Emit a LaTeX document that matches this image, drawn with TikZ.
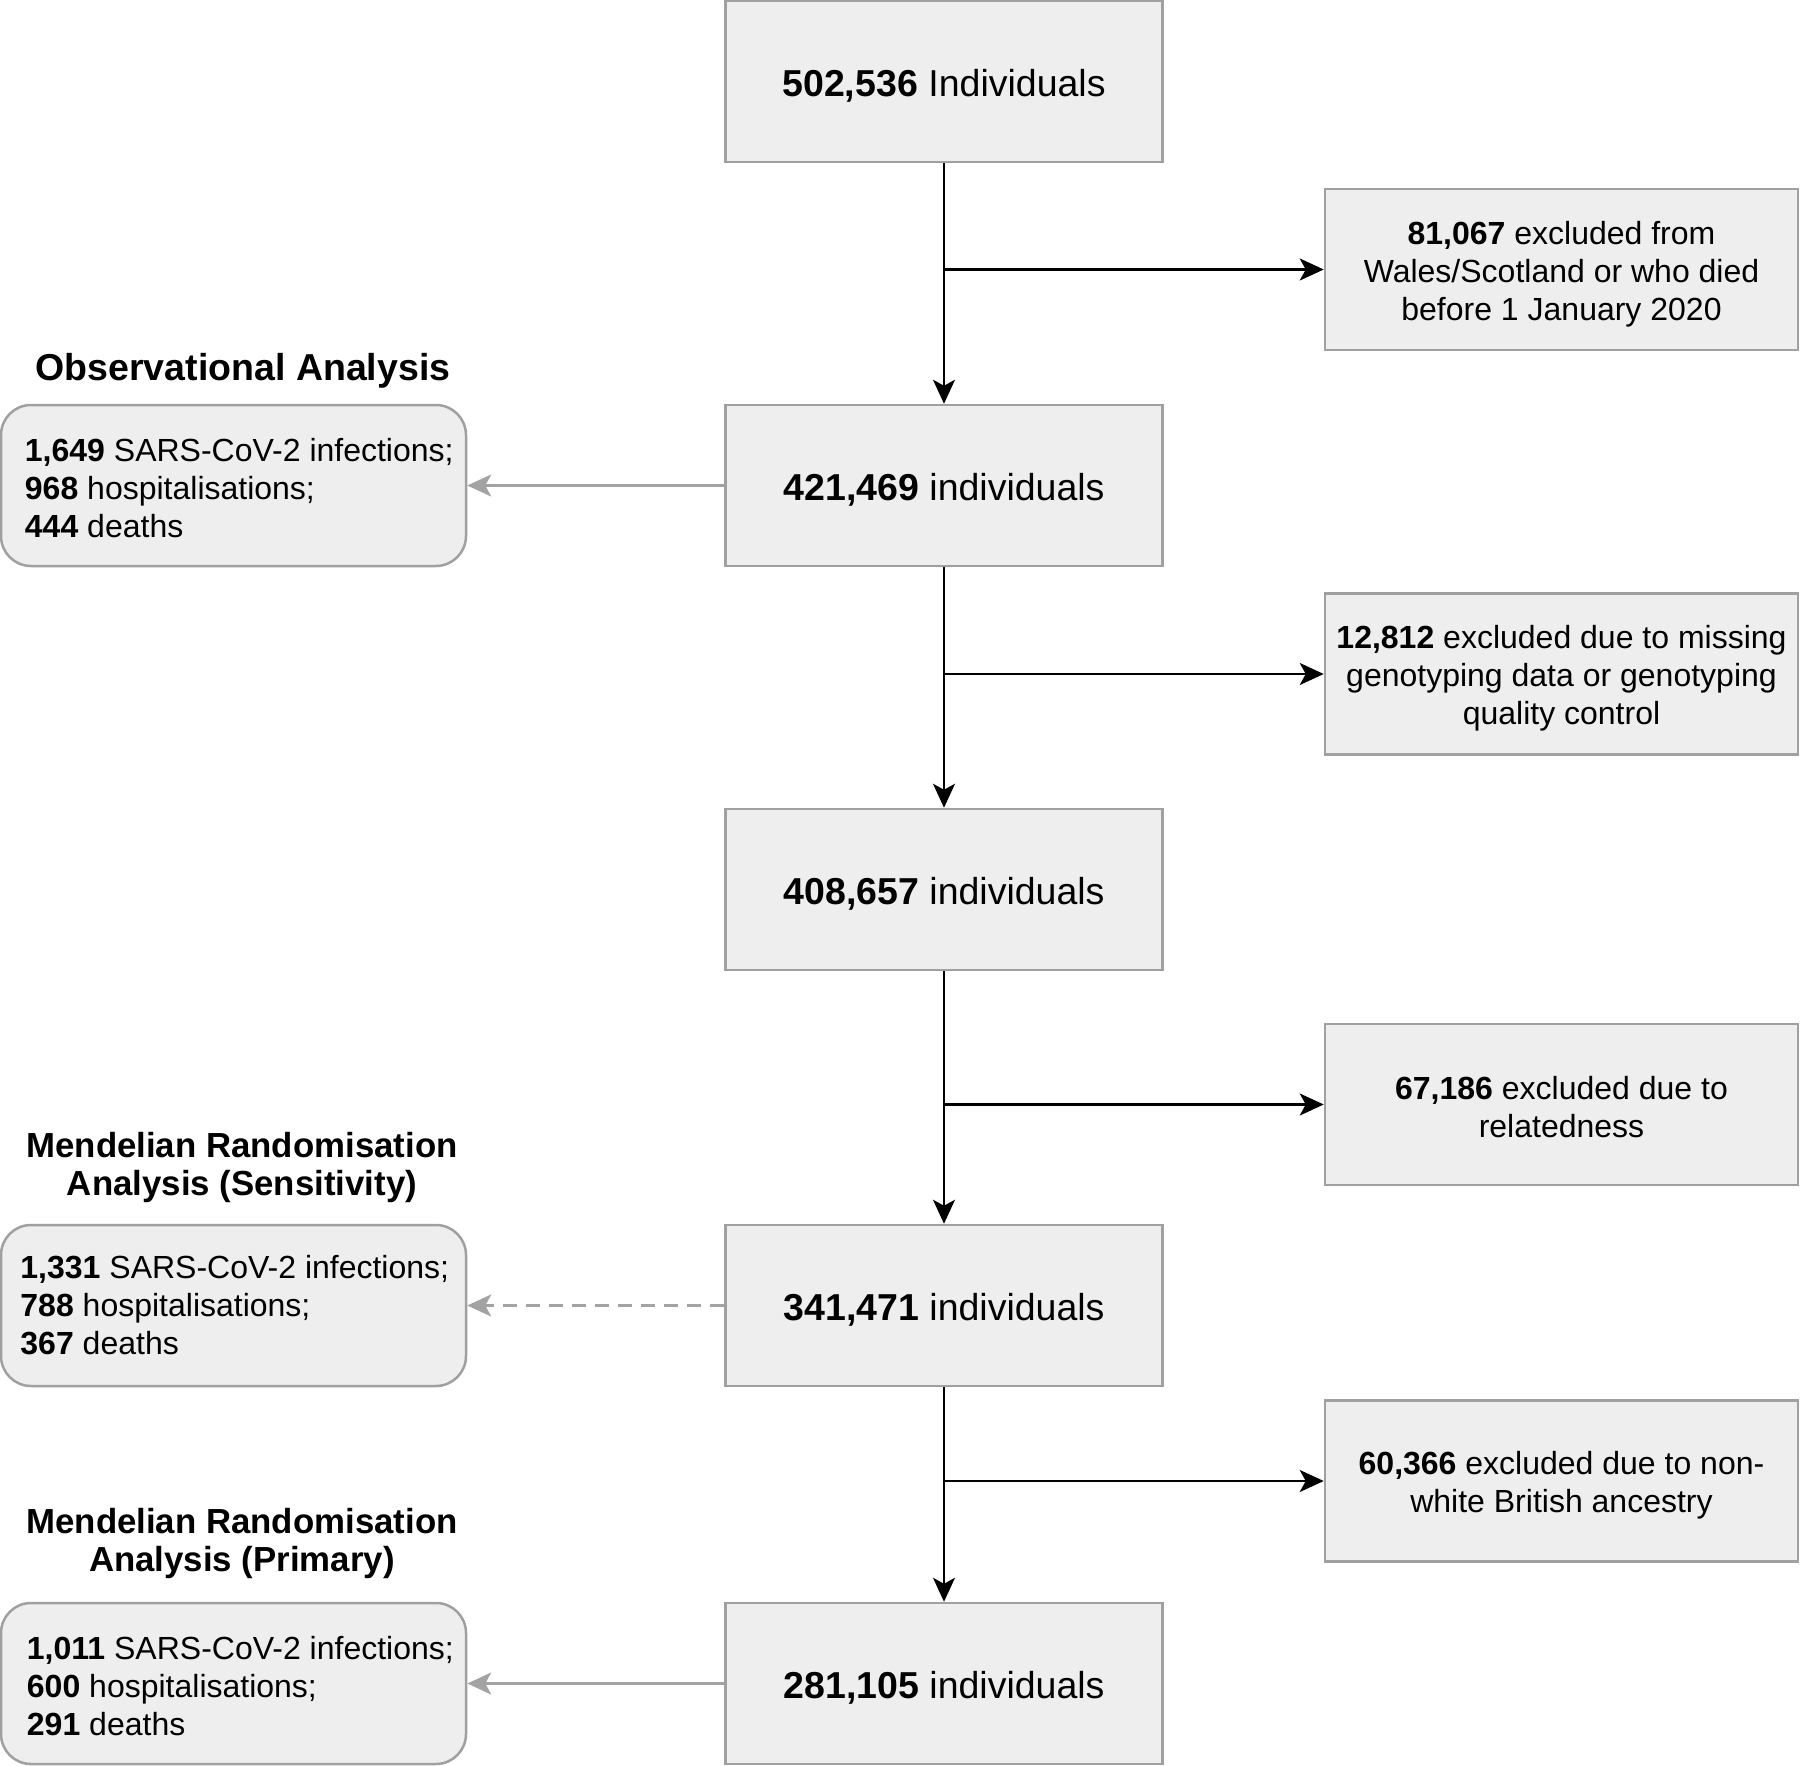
\documentclass[tikz,border=0pt]{standalone}
\usepackage{fontspec}
\setmainfont{Liberation Sans}
\usetikzlibrary{arrows.meta}
\definecolor{boxfill}{HTML}{EEEEEE}
\definecolor{boxline}{HTML}{A0A0A0}
\definecolor{grayarrow}{HTML}{A3A3A3}
\begin{document}
\begin{tikzpicture}[x=1pt,y=-1pt,
  mainbox/.style={draw=boxline, fill=boxfill, line width=2.5pt, minimum width=437pt, minimum height=161pt, inner sep=0pt},
  maintext/.style={inner sep=0pt, font=\fontsize{37.5}{45}\selectfont, align=center},
  exclbox/.style={draw=boxline, fill=boxfill, line width=2.5pt, minimum width=473pt, minimum height=161pt, inner sep=0pt},
  excltext/.style={inner sep=0pt, font=\fontsize{32}{38}\selectfont, align=center},
  resbox/.style={draw=boxline, fill=boxfill, line width=2.5pt, minimum width=465pt, minimum height=161pt, inner sep=0pt, rounded corners=30pt},
  restext/.style={anchor=west, inner sep=0pt, font=\fontsize{32}{38}\selectfont, align=left},
  titletext/.style={inner sep=0pt, font=\fontsize{37.5}{38}\selectfont\bfseries, align=center},
  subtitletext/.style={inner sep=0pt, font=\fontsize{34.8}{38}\selectfont\bfseries, align=center},
  flow/.style={draw=black, line width=1.8pt, -{Stealth[length=24pt, width=22pt, inset=6pt]}},
  branch/.style={draw=black, line width=2.3pt, -{Stealth[length=24pt, width=22pt, inset=6pt]}},
  result/.style={draw=grayarrow, line width=2.6pt, -{Stealth[length=24pt, width=22pt, inset=6pt]}},
  resultdash/.style={result, dash pattern=on 14pt off 9pt}
]
\useasboundingbox (0,0) rectangle (1800,1766);

% main column
\node[mainbox] (m1) at (944,81.5) {};
\node[maintext] (m1t) at ([yshift=-4pt]m1.center) {{\bfseries 502,536} Individuals};
\node[mainbox] (m2) at (944,485.5) {};
\node[maintext] (m2t) at ([yshift=-4pt]m2.center) {{\bfseries 421,469} individuals};
\node[mainbox] (m3) at (944,889.5) {};
\node[maintext] (m3t) at ([yshift=-4pt]m3.center) {{\bfseries 408,657} individuals};
\node[mainbox] (m4) at (944,1305.5) {};
\node[maintext] (m4t) at ([yshift=-4pt]m4.center) {{\bfseries 341,471} individuals};
\node[mainbox] (m5) at (944,1683.5) {};
\node[maintext] (m5t) at ([yshift=-4pt]m5.center) {{\bfseries 281,105} individuals};

% exclusion boxes
\node[exclbox] (r1) at (1561.5,269.5) {};
\node[excltext] (r1t) at ([yshift=-5pt]r1.center) {{\bfseries 81,067} excluded from\\Wales/Scotland or who died\\before 1 January 2020};
\node[exclbox] (r2) at (1561.5,674) {};
\node[excltext] (r2t) at ([yshift=-4pt]r2.center) {{\bfseries 12,812} excluded due to missing\\genotyping data or genotyping\\quality control};
\node[exclbox] (r3) at (1561.5,1104.5) {};
\node[excltext] (r3t) at ([yshift=-2.5pt]r3.center) {{\bfseries 67,186} excluded due to\\relatedness};
\node[exclbox] (r4) at (1561.5,1481) {};
\node[excltext] (r4t) at ([yshift=-4.5pt]r4.center) {{\bfseries 60,366} excluded due to non-\\white British ancestry};

% result boxes
\node[resbox] (l1) at (233.5,485.5) {};
\node[restext] (l1t) at ([xshift=25pt,yshift=-2.5pt]l1.west) {{\bfseries 1,649} SARS-CoV-2 infections;\\{\bfseries 968} hospitalisations;\\{\bfseries 444} deaths};
\node[resbox] (l2) at (233.5,1305.5) {};
\node[restext] (l2t) at ([xshift=20.5pt,yshift=0pt]l2.west) {{\bfseries 1,331} SARS-CoV-2 infections;\\{\bfseries 788} hospitalisations;\\{\bfseries 367} deaths};
\node[resbox] (l3) at (233.5,1683.5) {};
\node[restext] (l3t) at ([xshift=27pt,yshift=-3pt]l3.west) {{\bfseries 1,011} SARS-CoV-2 infections;\\{\bfseries 600} hospitalisations;\\{\bfseries 291} deaths};

% titles
\node[titletext] (t1) at (243,370.5) {Observational Analysis};
\node[subtitletext] (t2) at (242,1167.5) {Mendelian Randomisation\\Analysis (Sensitivity)};
\node[subtitletext] (t3) at (242,1543.5) {Mendelian Randomisation\\Analysis (Primary)};

% vertical flow
\draw[flow] (m1) -- (m2);
\draw[flow] (m2) -- (m3);
\draw[flow] (m3) -- (m4);
\draw[flow] (m4) -- (m5);

% branches
\coordinate (b1) at (m1.south |- r1.west);
\coordinate (b2) at (m2.south |- r2.west);
\coordinate (b3) at (m3.south |- r3.west);
\coordinate (b4) at (m4.south |- r4.west);
\draw[branch] (b1) -- (r1.west);
\draw[branch] (b2) -- (r2.west);
\draw[branch] (b3) -- (r3.west);
\draw[branch] (b4) -- (r4.west);

% results
\draw[result] (m2.west) -- (l1.east);
\draw[resultdash] (m4.west) -- (l2.east);
\draw[result] (m5.west) -- (l3.east);
\end{tikzpicture}
\end{document}
